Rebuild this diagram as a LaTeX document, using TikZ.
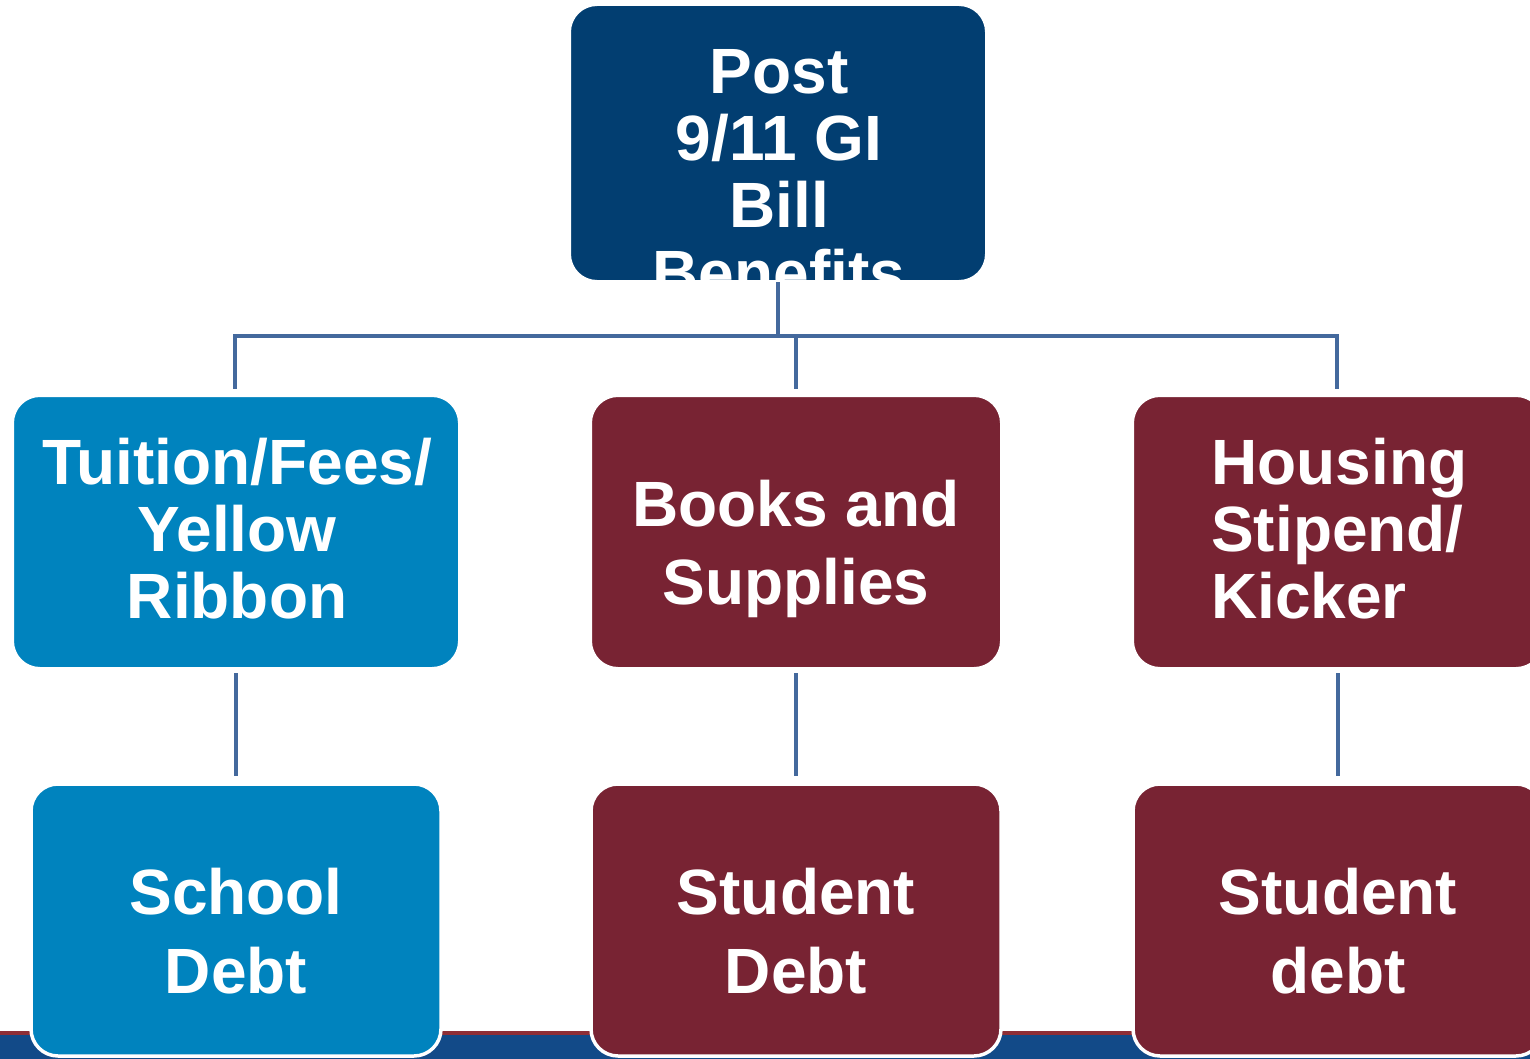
\documentclass[tikz,border=0pt]{standalone}
\usepackage{fontspec}
\setmainfont{Liberation Sans}
\definecolor{navy}{HTML}{023E71}
\definecolor{skyb}{HTML}{0083BE}
\definecolor{maroon}{HTML}{782333}
\definecolor{connc}{HTML}{44699D}
\definecolor{stripered}{HTML}{8E2E36}
\definecolor{stripeblue}{HTML}{124A88}
\tikzset{
  box/.style={draw=white, line width=2pt, rounded corners=27pt, inner sep=0pt,
    minimum width=410pt, minimum height=272pt},
  lowbox/.style={box, line width=3.5pt},
  lbl/.style={inner sep=0pt, anchor=base, text=white,
    font=\bfseries\fontsize{64}{64}\selectfont},
  conn/.style={draw=connc, line width=4pt}
}
\begin{document}
\begin{tikzpicture}[x=1pt,y=-1pt]
\useasboundingbox (0,0) rectangle (1530,1059);
\clip (0,0) rectangle (1530,1059);
% bottom stripe
\fill[stripered] (0,1031) rectangle (1530,1035);
\fill[stripeblue] (0,1035) rectangle (1530,1059);
% boxes
\node[box, fill=navy, minimum width=416pt, minimum height=276pt] (top) at (778,143) {};
\node[box, fill=skyb, minimum width=446pt] (b1) at (236,532) {};
\node[box, fill=maroon] (b2) at (796,532) {};
\node[box, fill=maroon] (b3) at (1338,532) {};
\node[lowbox, fill=skyb] (c1) at (236,920) {};
\node[lowbox, fill=maroon] (c2) at (796,920) {};
\node[lowbox, fill=maroon] (c3) at (1338,920) {};
% connectors
\coordinate (busL) at (235,336);
\coordinate (busR) at (1337,336);
\draw[conn] (top.south) -- (top.south |- busL);
\draw[conn] ([xshift=-2pt]busL) -- ([xshift=2pt]busR);
\draw[conn, shorten >=6pt] (busL) -- (busL |- b1.north);
\draw[conn, shorten >=6pt] (b2.north |- busL) -- (b2.north);
\draw[conn, shorten >=6pt] (busR) -- (busR |- b3.north);
\draw[conn, shorten <=4pt, shorten >=6pt] (b1.south) -- (c1.north);
\draw[conn, shorten <=4pt, shorten >=6pt] (b2.south) -- (c2.north);
\draw[conn, shorten <=4pt, shorten >=6pt] (b3.south) -- (c3.north);
% top box text, clipped to the box
\begin{scope}
\clip (570,5) rectangle (986,281);
\node[lbl] (t1) at (779,94) {Post};
\node[lbl] (t2) at (779,161) {9/11 GI};
\node[lbl] (t3) at (779,228) {Bill};
\node[lbl] (t4) at (779,295) {Benefits};
\end{scope}
% row 2 text
\node[lbl] (b1a) at (237,484) {Tuition/Fees/};
\node[lbl] (b1b) at (237,551) {Yellow};
\node[lbl] (b1c) at (237,618) {Ribbon};
\node[lbl] (b2a) at (796,526) {Books and};
\node[lbl] (b2b) at (796,604) {Supplies};
\node[lbl, anchor=base west] (b3a) at (1211,484) {Housing};
\node[lbl, anchor=base west] (b3b) at (1211,551) {Stipend/};
\node[lbl, anchor=base west] (b3c) at (1211,618) {Kicker};
% row 3 text
\node[lbl] (c1a) at (236,914) {School};
\node[lbl] (c1b) at (236,993) {Debt};
\node[lbl] (c2a) at (796,914) {Student};
\node[lbl] (c2b) at (796,993) {Debt};
\node[lbl] (c3a) at (1338,914) {Student};
\node[lbl] (c3b) at (1338,993) {debt};
\end{tikzpicture}
\end{document}
